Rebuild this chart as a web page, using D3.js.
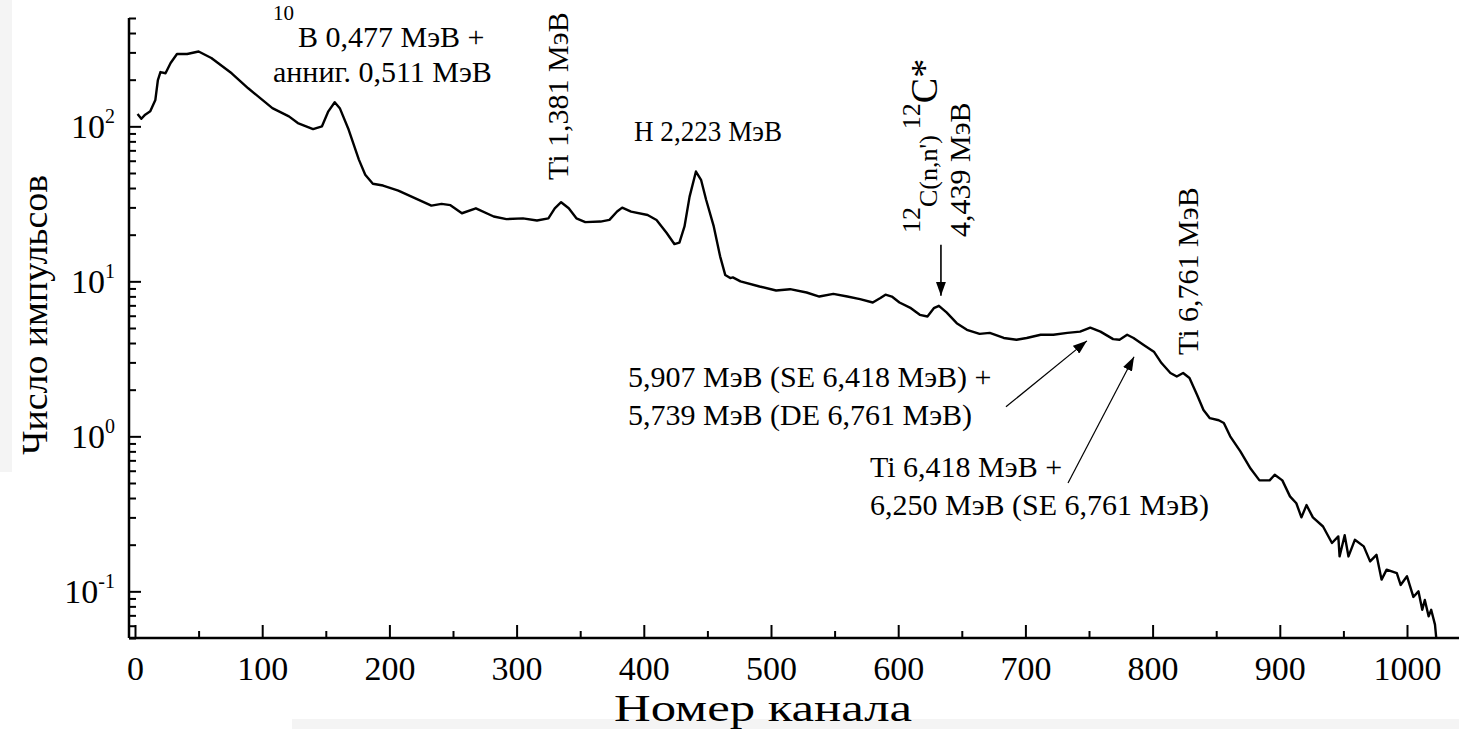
<!DOCTYPE html>
<html>
<head>
<meta charset="utf-8">
<script src="https://cdn.jsdelivr.net/npm/d3@7"></script>
<style>
  body { margin: 0; background: #fff; }
  svg { display: block; }
  text { font-family: "Liberation Serif", "Times New Roman", serif; fill: #000; }
</style>
</head>
<body>
<script>
// Spectrum: channel number and counts
const channels = [2, 5, 8, 12, 16, 18, 20, 24, 28, 33, 41, 50, 60, 76, 89, 108, 121, 128, 140, 147,
  152, 157, 161, 168, 176, 181, 187, 195, 207, 220, 233, 241, 248, 257, 268, 282, 292, 305, 316, 325,
  330, 335, 341, 347, 354, 366, 373, 379, 383, 390, 403, 410, 418, 424, 428, 432, 436, 441, 445, 449,
  455, 460, 464, 468, 470, 476, 491, 504, 515, 528, 538, 549, 560, 570, 580, 586, 590, 595, 601, 610,
  617, 623, 628, 632, 638, 646, 654, 664, 672, 683, 693, 701, 712, 722, 733, 743, 751, 759, 769, 774,
  780, 785, 793, 801, 807, 814, 819, 824, 829, 835, 840, 845, 852, 856, 861, 869, 877, 884, 892, 896,
  902, 908, 913, 917, 921, 926, 934, 941, 946, 947, 951, 954, 959, 966, 971, 976, 980, 984, 992, 995,
  1000, 1005, 1009, 1012, 1014, 1017, 1019, 1022, 1023];
const counts = [120, 112, 119, 125, 148, 199, 224, 220, 256, 293, 293, 304, 276, 220, 176, 131, 116, 105, 96, 100,
  125, 143, 131, 95, 61, 48.7, 42.6, 41.5, 38.5, 34.4, 30.8, 31.6, 31, 27.5, 29.6, 26.2, 25.2, 25.5, 24.7, 25.5,
  29.6, 32.4, 29.6, 25.5, 24.1, 24.3, 24.9, 28.2, 29.9, 28.2, 26.8, 24.9, 20.5, 17.4, 17.8, 22.6, 35.2, 51.1, 45.2, 33.6,
  22.6, 14.5, 11.0, 10.5, 10.6, 10.0, 9.26, 8.73, 8.9, 8.47, 7.98, 8.3, 7.98, 7.67, 7.3, 7.8, 8.2, 7.98, 7.3, 6.71,
  6.08, 5.93, 6.71, 6.95, 6.3, 5.37, 4.87, 4.58, 4.65, 4.31, 4.2, 4.31, 4.52, 4.52, 4.65, 4.74, 5.03, 4.74, 4.24, 4.2,
  4.52, 4.31, 3.89, 3.52, 2.97, 2.56, 2.43, 2.56, 2.38, 1.85, 1.48, 1.31, 1.27, 1.22, 1.0, 0.80, 0.62, 0.52, 0.52, 0.565,
  0.52, 0.41, 0.37, 0.30, 0.36, 0.30, 0.262, 0.205, 0.226, 0.168, 0.23, 0.168, 0.215, 0.195, 0.156, 0.172, 0.119, 0.138, 0.131, 0.110,
  0.125, 0.092, 0.1, 0.076, 0.088, 0.069, 0.076, 0.061, 0.05];

const xTicks = [0, 100, 200, 300, 400, 500, 600, 700, 800, 900, 1000];
const xMinor = [50, 150, 250, 350, 450, 550, 650, 750, 850, 950];
const yTicks = [0.1, 1, 10, 100];
const yExp = ["-1", "0", "1", "2"];
const yMinor = [0.05, 0.06, 0.07, 0.08, 0.09, 0.2, 0.3, 0.4, 0.5, 0.6, 0.7, 0.8, 0.9,
  2, 3, 4, 5, 6, 7, 8, 9, 20, 30, 40, 50, 60, 70, 80, 90, 200, 300, 400, 500];

// arrows: [channel, counts] from -> to
const arrows = [
  { from: [633.6, 17.2], to: [633.6, 8.06], w: 1.6 },
  { from: [684.7, 1.55], to: [748.4, 4.13], w: 1.2 },
  { from: [733.5, 0.50], to: [785.4, 3.26], w: 1.2 }
];

const W = 1459, H = 729;
const svg = d3.select("body").append("svg").attr("width", W).attr("height", H);

// pale strips seen at the image edges
svg.append("rect").attr("x", 0).attr("y", 0).attr("width", 12).attr("height", 472).attr("fill", "#f4f4f4");
svg.append("rect").attr("x", 292).attr("y", 719).attr("width", W - 292).attr("height", 10).attr("fill", "#f4f4f4");

const x = d3.scaleLinear().domain([0, 1000]).range([135, 1407]);
const y = d3.scaleLog().domain([0.05, 500]).range([638, 18]);

const axisLeftX = 129, axisBottomY = 638;

// x axis
const gx = svg.append("g").attr("transform", "translate(0," + axisBottomY + ")");
gx.call(d3.axisBottom(x).tickValues(xTicks).tickSize(-13).tickFormat(d => d));
gx.select(".domain").remove();
gx.selectAll(".tick line").attr("stroke", "#000").attr("stroke-width", 2);
gx.selectAll(".tick text").attr("y", 42).attr("dy", 0).style("font-size", "34px")
  .style("font-family", "'Liberation Serif', 'Times New Roman', serif");
gx.append("g").call(d3.axisBottom(x).tickValues(xMinor).tickSize(-7).tickFormat(""))
  .call(g => g.select(".domain").remove())
  .selectAll(".tick line").attr("stroke", "#000").attr("stroke-width", 2);
svg.append("line").attr("x1", axisLeftX).attr("x2", W).attr("y1", axisBottomY).attr("y2", axisBottomY)
  .attr("stroke", "#000").attr("stroke-width", 2.5);

// y axis
const gy = svg.append("g").attr("transform", "translate(" + axisLeftX + ",0)");
gy.call(d3.axisLeft(y).tickValues(yTicks).tickSize(-12).tickFormat(""));
gy.select(".domain").remove();
gy.selectAll(".tick line").attr("stroke", "#000").attr("stroke-width", 2);
gy.append("g").call(d3.axisLeft(y).tickValues(yMinor).tickSize(-7).tickFormat(""))
  .call(g => g.select(".domain").remove())
  .selectAll(".tick line").attr("stroke", "#000").attr("stroke-width", 2);
svg.append("line").attr("x1", axisLeftX).attr("x2", axisLeftX).attr("y1", y(500)).attr("y2", axisBottomY)
  .attr("stroke", "#000").attr("stroke-width", 2.5);

const yLab = svg.append("g").selectAll("text").data(yTicks).join("text")
  .attr("x", 115).attr("y", d => y(d) + 12)
  .attr("text-anchor", "end").style("font-size", "34px");
yLab.append("tspan").text("10");
yLab.append("tspan").attr("dy", -15).style("font-size", "20px").text((d, i) => yExp[i]);

// axis titles
svg.append("text").attr("x", 614).attr("y", 721)
  .attr("textLength", 298).attr("lengthAdjust", "spacingAndGlyphs")
  .style("font-size", "38px").text("Номер канала");
svg.append("text").attr("transform", "translate(47,455) rotate(-90)")
  .attr("textLength", 280).attr("lengthAdjust", "spacingAndGlyphs")
  .style("font-size", "36px").text("Число импульсов");

// spectrum
const pts = channels.map((c, i) => [c, counts[i]]);
svg.append("path").datum(pts)
  .attr("d", d3.line().x(d => x(d[0])).y(d => y(d[1])))
  .attr("fill", "none").attr("stroke", "#000").attr("stroke-width", 2.4).attr("stroke-linejoin", "round");

// arrows
svg.append("defs").append("marker").attr("id", "head")
  .attr("viewBox", "0 0 14 10").attr("refX", 14).attr("refY", 5)
  .attr("markerWidth", 14).attr("markerHeight", 10).attr("markerUnits", "userSpaceOnUse")
  .attr("orient", "auto")
  .append("path").attr("d", "M0,0 L14,5 L0,10 Z").attr("fill", "#000");
svg.append("g").selectAll("line").data(arrows).join("line")
  .attr("x1", d => x(d.from[0])).attr("y1", d => y(d.from[1]))
  .attr("x2", d => x(d.to[0])).attr("y2", d => y(d.to[1]))
  .attr("stroke", "#000").attr("stroke-width", d => d.w).attr("marker-end", "url(#head)");

// annotations
const fs = "30px";
const t1 = svg.append("text").attr("x", 273).attr("y", 47).style("font-size", fs);
t1.append("tspan").attr("dy", -27).style("font-size", "21px").text("10");
t1.append("tspan").attr("dy", 27).attr("dx", 4).text("B 0,477 МэВ +");
svg.append("text").attr("x", 273).attr("y", 82).style("font-size", fs).text("анниг. 0,511 МэВ");

svg.append("text").attr("transform", "translate(568,180) rotate(-90)").style("font-size", fs).text("Ti 1,381 МэВ");
svg.append("text").attr("x", 634).attr("y", 141).attr("textLength", 148).attr("lengthAdjust", "spacingAndGlyphs")
  .style("font-size", fs).text("H 2,223 МэВ");

const t2 = svg.append("text").attr("transform", "translate(937,233) rotate(-90)").style("font-size", "26px");
t2.append("tspan").attr("dy", -17).text("12");
t2.append("tspan").attr("dy", 17).text("C(n,n')");
t2.append("tspan").attr("dy", -17).attr("dx", 6).text("12");
t2.append("tspan").attr("dy", 17).style("font-size", "38px").text("C*");
svg.append("text").attr("transform", "translate(970,237) rotate(-90)").style("font-size", fs).text("4,439 МэВ");

svg.append("text").attr("transform", "translate(1198,355) rotate(-90)").style("font-size", fs).text("Ti 6,761 МэВ");

svg.append("text").attr("x", 628).attr("y", 387).style("font-size", fs).text("5,907 МэВ (SE 6,418 МэВ) +");
svg.append("text").attr("x", 628).attr("y", 425).style("font-size", fs).text("5,739 МэВ (DE 6,761 МэВ)");
svg.append("text").attr("x", 870).attr("y", 477).style("font-size", fs).text("Ti 6,418 МэВ +");
svg.append("text").attr("x", 870).attr("y", 515).style("font-size", fs).text("6,250 МэВ (SE 6,761 МэВ)");
</script>
</body>
</html>
